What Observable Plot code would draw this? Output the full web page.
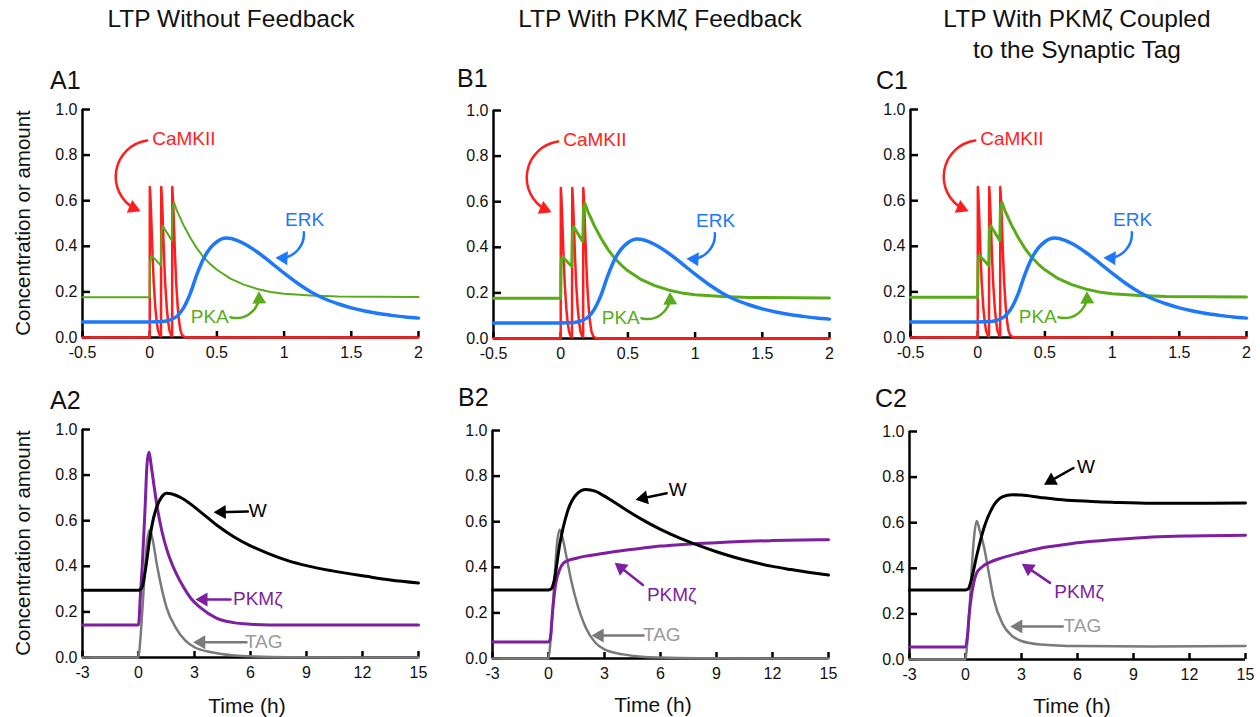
<!DOCTYPE html>
<html><head><meta charset="utf-8">
<script src="https://cdn.jsdelivr.net/npm/d3@7"></script>
<script src="https://cdn.jsdelivr.net/npm/@observablehq/plot@0.6"></script>
<style>
body{margin:0;background:#fff;}
#root{position:relative;width:1260px;height:717px;font-family:"Liberation Sans",Arial,sans-serif;color:#111;overflow:hidden;background:#fff}
.t{position:absolute;white-space:nowrap;line-height:1}
</style></head><body><div id="root"></div>
<script>
// ---------- data ----------
const yTicks = [0, 0.2, 0.4, 0.6, 0.8, 1.0];
const topXTicks = [-0.5, 0, 0.5, 1, 1.5, 2];
const bottomXTicks = [-3, 0, 3, 6, 9, 12, 15];
const topXDomain = [-0.5, 2];
const bottomXDomain = [-3, 15];

const columnTitles = [["LTP Without Feedback"], ["LTP With PKMζ Feedback"], ["LTP With PKMζ Coupled", "to the Synaptic Tag"]];
const panelLabels = ["A1", "B1", "C1", "A2", "B2", "C2"];

// top row (same simulation in A1, B1, C1): time (h), value
const camkii = [[-0.5,0],[0,0],[0.001,0.66],[0.005,0.62],[0.01,0.55],[0.016,0.45],[0.022,0.35],[0.03,0.24],[0.042,0.13],[0.052,0.07],[0.062,0.03],[0.075,0.01],[0.084,0.005],
  [0.086,0.66],[0.09,0.62],[0.095,0.55],[0.101,0.45],[0.107,0.35],[0.115,0.24],[0.127,0.13],[0.137,0.07],[0.147,0.03],[0.16,0.01],[0.167,0.006],
  [0.168,0.66],[0.172,0.62],[0.177,0.55],[0.183,0.45],[0.189,0.35],[0.197,0.24],[0.209,0.13],[0.219,0.07],[0.229,0.03],[0.242,0.01],[0.26,0.002],[0.3,0],[2,0]];
const pka = [[-0.5,0.177],[0,0.177],[0.003,0.33],[0.012,0.36],[0.083,0.316],[0.087,0.47],[0.096,0.49],[0.165,0.425],[0.169,0.57],[0.18,0.593],[0.2,0.56],[0.25,0.495],[0.3,0.44],[0.35,0.392],[0.4,0.353],[0.45,0.322],[0.5,0.297],[0.6,0.258],[0.7,0.232],[0.8,0.213],[0.9,0.2],[1.0,0.192],[1.2,0.184],[1.4,0.18],[2.0,0.178]];
const erk = [[-0.5,0.068],[0,0.068],[0.1,0.07],[0.15,0.077],[0.2,0.092],[0.25,0.128],[0.3,0.19],[0.35,0.275],[0.4,0.345],[0.45,0.392],[0.5,0.42],[0.57,0.436],[0.65,0.426],[0.7,0.412],[0.8,0.375],[0.9,0.33],[1.0,0.282],[1.1,0.238],[1.2,0.2],[1.3,0.17],[1.4,0.148],[1.5,0.13],[1.6,0.116],[1.7,0.105],[1.8,0.097],[1.9,0.09],[2.0,0.085]];

// bottom row
const wA = [[-3,0.295],[0,0.295],[0.1,0.298],[0.2,0.31],[0.4,0.4],[0.6,0.52],[0.8,0.61],[1.0,0.665],[1.25,0.705],[1.5,0.72],[1.8,0.717],[2.4,0.695],[3.3,0.64],[4.2,0.58],[5.1,0.53],[6,0.49],[6.9,0.458],[8,0.425],[9,0.403],[10.4,0.38],[12.2,0.356],[13.5,0.34],[15,0.327]];
const pkmA = [[-3,0.143],[0,0.143],[0.1,0.27],[0.2,0.4],[0.35,0.65],[0.45,0.84],[0.55,0.9],[0.7,0.83],[0.82,0.76],[1.0,0.66],[1.25,0.555],[1.53,0.47],[2.0,0.372],[2.4,0.31],[2.8,0.26],[3.3,0.22],[4.2,0.172],[5.1,0.153],[6,0.146],[7,0.143],[15,0.143]];
const tagA = [[-3,0],[0,0],[0.1,0.08],[0.2,0.2],[0.3,0.33],[0.45,0.5],[0.6,0.56],[0.75,0.52],[1.0,0.4],[1.25,0.3],[1.5,0.22],[2.0,0.13],[2.5,0.075],[3,0.045],[4,0.022],[5,0.01],[6,0.005],[8,0.001],[15,0]];

const wB = [[-3,0.3],[0,0.3],[0.15,0.305],[0.3,0.34],[0.6,0.5],[1.0,0.64],[1.5,0.72],[2.0,0.741],[2.5,0.734],[3,0.712],[4,0.66],[5,0.61],[6,0.566],[7,0.529],[8,0.497],[9,0.468],[10,0.443],[11,0.422],[12,0.404],[13,0.39],[14,0.377],[15,0.366]];
const pkmB = [[-3,0.072],[0,0.072],[0.1,0.09],[0.2,0.19],[0.37,0.32],[0.6,0.39],[0.82,0.42],[1,0.428],[1.5,0.44],[2,0.449],[3,0.462],[4,0.474],[5,0.484],[6,0.493],[7,0.499],[8,0.504],[9,0.508],[10,0.512],[12,0.517],[15,0.521]];
const tagB = [[-3,0],[0,0],[0.1,0.07],[0.2,0.18],[0.3,0.32],[0.45,0.5],[0.6,0.565],[0.75,0.53],[1,0.43],[1.25,0.33],[1.5,0.25],[2,0.135],[2.5,0.07],[3,0.04],[4,0.018],[5,0.008],[6,0.004],[8,0.001],[15,0]];

const wC = [[-3,0.305],[0,0.305],[0.15,0.31],[0.3,0.345],[0.6,0.455],[1,0.58],[1.5,0.674],[2,0.714],[2.5,0.723],[3,0.721],[4,0.711],[5,0.702],[6,0.696],[8,0.689],[10,0.685],[12,0.685],[15,0.686]];
const pkmC = [[-3,0.055],[0,0.055],[0.1,0.1],[0.2,0.2],[0.3,0.27],[0.45,0.34],[0.6,0.38],[0.8,0.4],[1,0.413],[2,0.447],[3,0.469],[4,0.488],[5,0.5],[6,0.512],[8,0.526],[10,0.537],[12,0.542],[15,0.545]];
const tagC = [[-3,0],[0,0],[0.1,0.08],[0.2,0.2],[0.3,0.35],[0.45,0.53],[0.6,0.608],[0.75,0.57],[1,0.49],[1.25,0.38],[1.5,0.27],[2,0.154],[2.5,0.103],[3,0.081],[4,0.066],[6,0.059],[10,0.057],[15,0.059]];

// annotations (data units)
const topNotes = [
  {label:"CaMKII", x:0.254, y:0.871, key:"red"},
  {label:"ERK", x:1.152, y:0.516, key:"blue"},
  {label:"PKA", x:0.447, y:0.092, key:"green"}];
const topArrows = [
  {x1:-0.019, y1:0.864, x2:-0.068, y2:0.554, bend:-72, key:"red"},
  {x1:1.147, y1:0.462, x2:0.936, y2:0.35, bend:45, key:"blue"},
  {x1:0.601, y1:0.089, x2:0.812, y2:0.202, bend:-50, key:"green"}];
const notesA2 = [{label:"W", x:6.39, y:0.645, key:"black"},{label:"PKMζ", x:6.39, y:0.257, key:"purple"},{label:"TAG", x:6.71, y:0.07, key:"tagtext"}];
const arrowsA2 = [{x1:5.86,y1:0.64,x2:4.03,y2:0.637,key:"black"},{x1:4.93,y1:0.254,x2:3.05,y2:0.254,key:"purple"},{x1:5.78,y1:0.067,x2:2.93,y2:0.067,key:"gray"}];
const notesB2 = [{label:"W", x:6.92, y:0.739, key:"black"},{label:"PKMζ", x:6.6, y:0.281, key:"purple"},{label:"TAG", x:6.07, y:0.104, key:"tagtext"}];
const arrowsB2 = [{x1:6.33,y1:0.725,x2:4.67,y2:0.696,key:"black"},{x1:5.06,y1:0.322,x2:3.55,y2:0.42,key:"purple"},{x1:5.09,y1:0.101,x2:2.31,y2:0.101,key:"gray"}];
const notesC2 = [{label:"W", x:6.46, y:0.846, key:"black"},{label:"PKMζ", x:6.08, y:0.297, key:"purple"},{label:"TAG", x:6.26, y:0.148, key:"tagtext"}];
const arrowsC2 = [{x1:5.78,y1:0.84,x2:4.21,y2:0.767,key:"black"},{x1:4.53,y1:0.336,x2:3.02,y2:0.42,key:"purple"},{x1:5.21,y1:0.145,x2:2.4,y2:0.145,key:"gray"}];

// ---------- style ----------
const COLORS = {red:"#ff1e1e", green:"#5aab1a", blue:"#1e78fa", purple:"#7d1f9f", gray:"#7a7a7a", tagtext:"#9a9a9a", black:"#000"};
const FONT = '"Liberation Sans", Arial, sans-serif';
const ML = 50, MR = 20, MT = 15, MB = 40, FW = 336, FH = 228;
const root = document.getElementById("root");

function addText(str, left, top, size, opts = {}) {
  const d = document.createElement("div");
  d.className = "t";
  d.textContent = str;
  d.style.left = left + "px";
  d.style.top = top + "px";
  d.style.fontSize = size + "px";
  d.style.transform = opts.transform || "translate(-50%,-50%)";
  if (opts.color) d.style.color = opts.color;
  root.appendChild(d);
}

// arrow = curved/straight shaft + filled triangular head oriented along the end tangent
function arrowMarks(a, cfg) {
  const color = COLORS[a.key];
  const bend = a.bend || 0;
  const sx = FW / (cfg.xDomain[1] - cfg.xDomain[0]), sy = FH;
  const phi = Math.atan2(-(a.y2 - a.y1) * sy, (a.x2 - a.x1) * sx) + bend * Math.PI / 180;
  const back = px => ({x: a.x2 - px * Math.cos(phi) / sx, y: a.y2 + px * Math.sin(phi) / sy});
  const e = back(6), c = back(8);
  return [
    Plot.arrow([a], {x1: "x1", y1: "y1", x2: () => e.x, y2: () => e.y, bend, headLength: 0, stroke: color, strokeWidth: 2.5}),
    Plot.dot([c], {x: "x", y: "y", r: 5.2, symbol: "triangle", rotate: phi * 180 / Math.PI + 90, fill: color, stroke: "none"})
  ];
}

function makePanel(cfg) {
  const x0 = cfg.xDomain[0];
  const pxX = (cfg.xDomain[1] - x0) / FW;   // data units per pixel (x)
  const pxY = 1 / FH;                       // data units per pixel (y)
  const marks = [
    // axis lines
    Plot.ruleX([x0], {y1: 0, y2: 1, stroke: "#000", strokeWidth: 2.5}),
    Plot.ruleY([0], {stroke: "#000", strokeWidth: 2.5}),
    // inward tick marks
    Plot.ruleY(yTicks, {y: d => d, x1: x0, x2: x0 + 8 * pxX, stroke: "#000", strokeWidth: 2.5}),
    Plot.ruleX(cfg.xTicks, {x: d => d, y1: 0, y2: 6 * pxY, stroke: "#000", strokeWidth: 2.5}),
    // tick labels
    Plot.text(yTicks, {x: x0, y: d => d, text: d => d.toFixed(1), textAnchor: "end", dx: -5, fontSize: 16, fill: "#111"}),
    Plot.text(cfg.xTicks, {x: d => d, y: 0, text: d => String(d), dy: 15, fontSize: 16, fill: "#111"}),
    // series
    ...cfg.series.map(s => Plot.line(s.data, {x: d => d[0], y: d => d[1], stroke: s.color, strokeWidth: s.width, curve: s.curve, strokeLinejoin: "round"})),
    // annotations
    Plot.text(cfg.notes, {x: "x", y: "y", text: "label", fill: d => COLORS[d.key], fontSize: 19, textAnchor: "middle"}),
    ...cfg.arrows.flatMap(a => arrowMarks(a, cfg))
  ];
  const svg = Plot.plot({
    width: FW + ML + MR, height: FH + MT + MB,
    marginLeft: ML, marginRight: MR, marginTop: MT, marginBottom: MB,
    x: {domain: cfg.xDomain, axis: null},
    y: {domain: [0, 1], axis: null},
    style: `font-family: ${FONT}; font-size: 16px; color: #111; background: transparent; overflow: visible; max-width: none;`,
    marks
  });
  svg.style.position = "absolute";
  svg.style.left = (cfg.frameLeft - ML) + "px";
  svg.style.top = (cfg.frameTop - MT) + "px";
  root.appendChild(svg);
}

const topSeries = (pkaW) => [
  {data: camkii, color: COLORS.red, width: 2.5, curve: "linear"},
  {data: pka, color: COLORS.green, width: pkaW, curve: "linear"},
  {data: erk, color: COLORS.blue, width: 3.5, curve: "monotone-x"}];
const bottomSeries = (tag, pkm, w) => [
  {data: tag, color: COLORS.gray, width: 2.5, curve: "monotone-x"},
  {data: pkm, color: COLORS.purple, width: 3, curve: "monotone-x"},
  {data: w, color: COLORS.black, width: 3, curve: "monotone-x"}];

const panels = [
  {frameLeft: 82, frameTop: 109, xDomain: topXDomain, xTicks: topXTicks, series: topSeries(2), notes: topNotes, arrows: topArrows},
  {frameLeft: 493, frameTop: 110, xDomain: topXDomain, xTicks: topXTicks, series: topSeries(3), notes: topNotes, arrows: topArrows},
  {frameLeft: 910, frameTop: 109, xDomain: topXDomain, xTicks: topXTicks, series: topSeries(3), notes: topNotes, arrows: topArrows},
  {frameLeft: 82, frameTop: 429, xDomain: bottomXDomain, xTicks: bottomXTicks, series: bottomSeries(tagA, pkmA, wA), notes: notesA2, arrows: arrowsA2},
  {frameLeft: 492, frameTop: 430, xDomain: bottomXDomain, xTicks: bottomXTicks, series: bottomSeries(tagB, pkmB, wB), notes: notesB2, arrows: arrowsB2},
  {frameLeft: 909, frameTop: 431, xDomain: bottomXDomain, xTicks: bottomXTicks, series: bottomSeries(tagC, pkmC, wC), notes: notesC2, arrows: arrowsC2}
];
panels.forEach(makePanel);

// titles
const titleCenters = [231, 660, 1077];
columnTitles.forEach((lines, i) => lines.forEach((s, j) => addText(s, titleCenters[i], 19 + j * 31, 24.5)));
// panel labels
const labelPos = [[50, 80], [457, 78], [876, 80], [50, 400], [458, 397], [875, 398]];
panelLabels.forEach((s, i) => addText(s, labelPos[i][0], labelPos[i][1], 25, {transform: "translate(0,-50%)"}));
// axis titles
[223, 543].forEach(cy => addText("Concentration or amount", 23, cy, 20.5, {transform: "translate(-50%,-50%) rotate(-90deg)"}));
[[247, 705], [653, 704], [1072, 705]].forEach(([cx, cy]) => addText("Time (h)", cx, cy, 21));
</script></body></html>
